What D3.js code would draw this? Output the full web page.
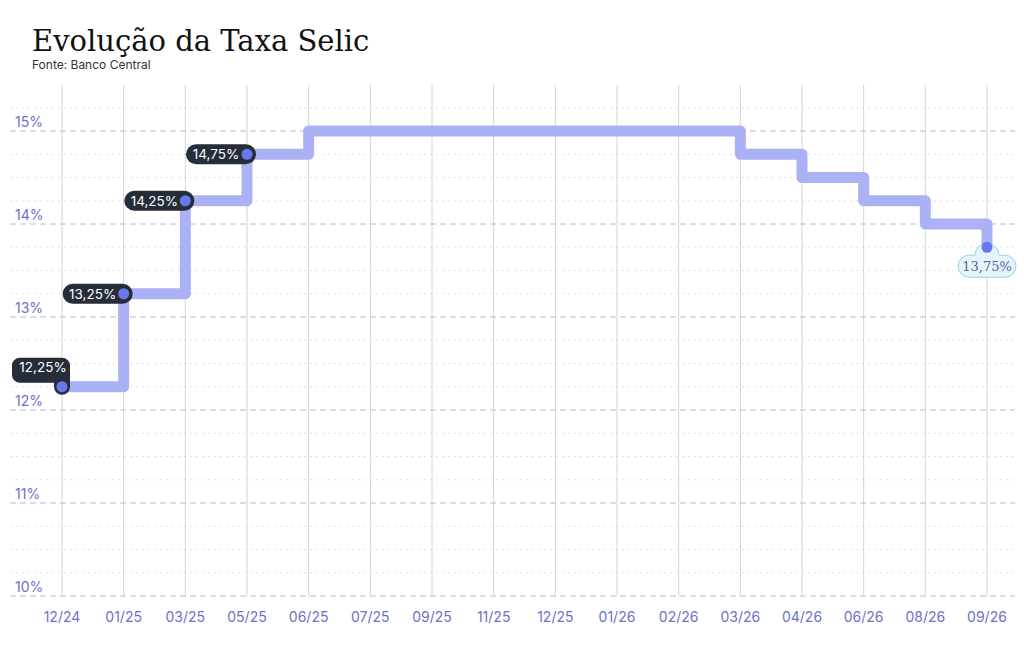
<!DOCTYPE html>
<html><head><meta charset="utf-8">
<script src="https://cdn.jsdelivr.net/npm/d3@7"></script>
<style>body{margin:0;background:#fff}svg{display:block}</style>
</head><body><svg id="c" width="1024" height="654"></svg>
<script>
const months = ["12/24","01/25","03/25","05/25","06/25","07/25","09/25","11/25","12/25","01/26","02/26","03/26","04/26","06/26","08/26","09/26"];
const rates = [12.25,13.25,14.25,14.75,15,15,15,15,15,15,15,14.75,14.5,14.25,14,13.75];
const yTicks = [10,11,12,13,14,15];
const labeled = [0,1,2,3];

const svg = d3.select("#c");
const x = d3.scalePoint().domain(months).range([62,987]);
const y = d3.scaleLinear().domain([10,15]).range([596,131]);
const fmt = v => v.toFixed(2).replace(".", ",") + "%";

svg.append("text").attr("x",32).attr("y",51).attr("font-family","DejaVu Serif, serif")
  .attr("font-size",29).attr("fill","#111").text("Evolução da Taxa Selic");
svg.append("text").attr("x",32).attr("y",69).attr("font-family","Inter, sans-serif")
  .attr("font-size",12).attr("fill","#333").text("Fonte: Banco Central");

const minor = d3.range(10,15.3,0.25).filter(v => Math.abs(v - Math.round(v)) > 0.01);
svg.append("g").selectAll("line").data(minor).join("line")
  .attr("x1",10).attr("x2",1015).attr("y1",d=>y(d)).attr("y2",d=>y(d))
  .attr("stroke","#dde0ea").attr("stroke-dasharray","2,4");
svg.append("g").selectAll("line").data(months).join("line")
  .attr("x1",d=>x(d)).attr("x2",d=>x(d)).attr("y1",85).attr("y2",596)
  .attr("stroke","#d4d4d8");
svg.append("g").selectAll("line").data(yTicks).join("line")
  .attr("x1",10).attr("x2",1015).attr("y1",d=>y(d)).attr("y2",d=>y(d))
  .attr("stroke","#b4b8e0").attr("stroke-dasharray","6,4");
svg.append("g").selectAll("text").data(yTicks).join("text")
  .attr("x",15).attr("y",d=>y(d)-4).attr("font-family","Inter, sans-serif").attr("font-size",14)
  .attr("fill","#6b72c9").text(d=>d+"%");
svg.append("g").selectAll("text").data(months).join("text")
  .attr("x",d=>x(d)).attr("y",622).attr("text-anchor","middle").attr("font-family","Inter, sans-serif")
  .attr("font-size",14).attr("fill","#6b72c9").text(d=>d);

const line = d3.line().x((d,i)=>x(months[i])).y(d=>y(d)).curve(d3.curveStepAfter);
svg.append("path").datum(rates).attr("d",line).attr("fill","none")
  .attr("stroke","#aab1f4").attr("stroke-width",11).attr("stroke-linejoin","round");

labeled.forEach(i => {
  const cx = x(months[i]), cy = y(rates[i]);
  const g = svg.append("g");
  if (i === 0) {
    g.append("path").attr("d",`M${cx-42},${cy-29} h42 a8,8 0 0 1 8,8 v21 a8,8 0 0 1 -8,8 a8,8 0 0 1 -8,-8 v-4 h-34 a8,8 0 0 1 -8,-8 v-9 a8,8 0 0 1 8,-8z`)
      .attr("fill","#252d38");
    g.append("text").attr("x",cx-19).attr("y",cy-15).attr("text-anchor","middle").attr("font-family","Inter, sans-serif")
      .attr("font-size",13.5).attr("fill","#fff").text(fmt(rates[i]));
  } else {
    g.append("rect").attr("x",cx-61).attr("y",cy-10).attr("width",70).attr("height",20).attr("rx",10).attr("fill","#252d38");
    g.append("text").attr("x",cx-31).attr("y",cy+5).attr("text-anchor","middle").attr("font-family","Inter, sans-serif")
      .attr("font-size",13.5).attr("fill","#fff").text(fmt(rates[i]));
  }
  g.append("circle").attr("cx",cx).attr("cy",cy).attr("r",5.5).attr("fill","#6b78ec");
});
const li = rates.length-1, lx = x(months[li]), ly = y(rates[li]);
svg.append("path").attr("d",`M${lx-12},${ly+8} a12,12 0 0 1 24,0 h6 a11,11 0 0 1 0,22 h-36 a11,11 0 0 1 0,-22 z`)
  .attr("fill","#e3f4fb").attr("stroke","#9fd0e3").attr("stroke-width",1);
svg.append("circle").attr("cx",lx).attr("cy",ly).attr("r",5.5).attr("fill","#6b78ec");
svg.append("text").attr("x",lx).attr("y",ly+24).attr("text-anchor","middle").attr("font-family","DejaVu Serif, serif")
  .attr("font-size",13).attr("fill","#5b6496").text(fmt(rates[li]));
</script></body></html>
